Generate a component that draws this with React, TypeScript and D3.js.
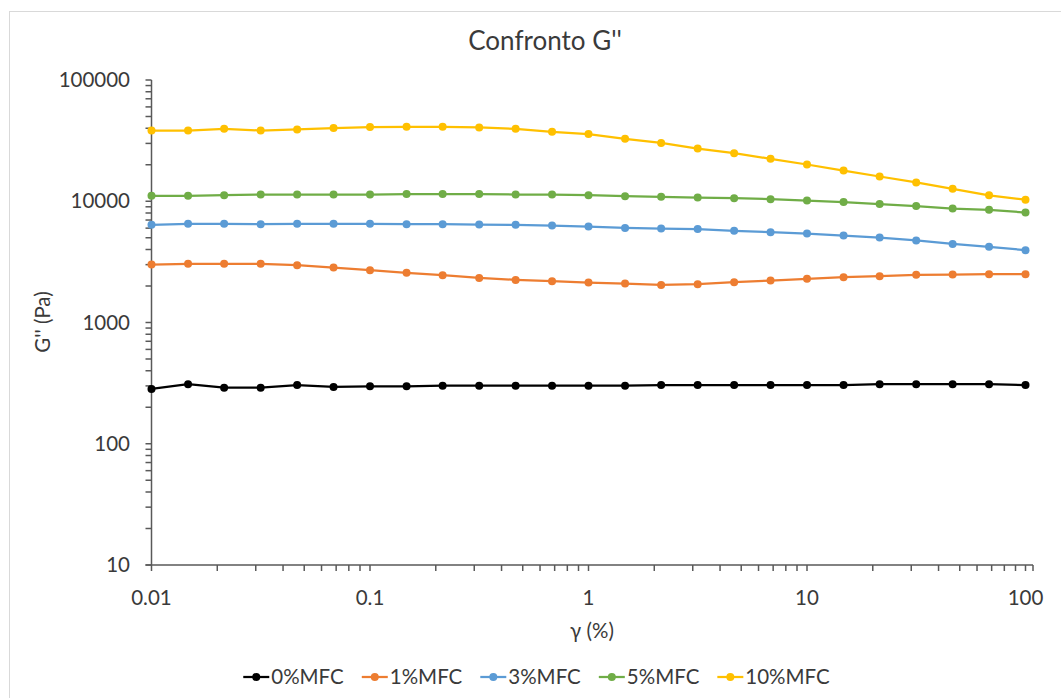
import React, { useEffect, useRef } from "react";
import * as d3 from "d3";

// Strain amplitude sweep, γ in %
const strain = [
  0.01, 0.0147, 0.0215, 0.0316, 0.0464, 0.0681,
  0.1, 0.147, 0.215, 0.316, 0.464, 0.681,
  1, 1.47, 2.15, 3.16, 4.64, 6.81,
  10, 14.7, 21.5, 31.6, 46.4, 68.1, 100,
];

// Loss modulus G'' (Pa) per MFC content
const mfc0 = [283, 310, 290, 290, 305, 294, 298, 298, 301, 301, 301, 301, 301, 301, 305, 305, 305, 305, 305, 305, 310, 310, 310, 310, 305];
const mfc1 = [3006, 3045, 3045, 3045, 2970, 2840, 2700, 2570, 2455, 2333, 2245, 2190, 2135, 2094, 2042, 2070, 2150, 2217, 2290, 2365, 2410, 2472, 2485, 2505, 2505];
const mfc3 = [6390, 6510, 6510, 6470, 6510, 6510, 6510, 6470, 6470, 6420, 6390, 6300, 6180, 6030, 5950, 5890, 5700, 5560, 5420, 5210, 5020, 4750, 4450, 4210, 3950];
const mfc5 = [11090, 11090, 11230, 11360, 11360, 11360, 11360, 11450, 11450, 11450, 11360, 11360, 11230, 11020, 10870, 10730, 10610, 10400, 10140, 9840, 9470, 9120, 8710, 8500, 8070];
const mfc10 = [38300, 38300, 39600, 38300, 39100, 40100, 40900, 41100, 41100, 40600, 39600, 37400, 35800, 32700, 30300, 27200, 24900, 22400, 20100, 17900, 16000, 14300, 12650, 11200, 10300];

const seriesNames = ["0%MFC", "1%MFC", "3%MFC", "5%MFC", "10%MFC"];
const seriesValues = [mfc0, mfc1, mfc3, mfc5, mfc10];
const seriesColors = ["#000000", "#ED7D31", "#5B9BD5", "#70AD47", "#FFC000"];

const xTickValues = [0.01, 0.1, 1, 10, 100];
const yTickValues = [10, 100, 1000, 10000, 100000];

const W = 1061;
const H = 698;
const FONT = "Lato, 'Open Sans', sans-serif";
const TEXT = "#3a3a3a";
const AXIS = "#595959";
const LABEL_SIZE = 20.5;

export default function App() {
  const ref = useRef<SVGSVGElement | null>(null);

  useEffect(() => {
    const svg = d3.select(ref.current);
    svg.selectAll("*").remove();

    const x = d3.scaleLog().domain([0.01, 100]).range([151.5, 1025.5]);
    const y = d3.scaleLog().domain([10, 100000]).range([565, 80]);
    const xAxisEnd = 1033;

    // chart area frame
    svg.append("rect")
      .attr("x", 9.5).attr("y", 11.5)
      .attr("width", W + 20).attr("height", H + 20)
      .attr("fill", "#fff").attr("stroke", "#d9d9d9").attr("stroke-width", 1);

    // title
    svg.append("text")
      .attr("x", 545).attr("y", 50)
      .attr("text-anchor", "middle")
      .attr("font-family", FONT).attr("font-size", 26)
      .attr("fill", TEXT)
      .text("Confronto G''");

    const axes = svg.append("g").attr("stroke", AXIS).attr("stroke-width", 1.5);

    // minor + major tick positions for both log axes
    const logTicks = (lo: number, hi: number) => {
      const out: number[] = [];
      for (let p = Math.log10(lo); p < Math.log10(hi); p++) {
        for (let m = 1; m <= 9; m++) out.push(m * Math.pow(10, p));
      }
      out.push(hi);
      return out;
    };

    // y axis
    axes.append("line")
      .attr("x1", x(0.01)).attr("x2", x(0.01))
      .attr("y1", y(100000)).attr("y2", y(10));
    axes.selectAll(".yt").data(logTicks(10, 100000)).enter().append("line")
      .attr("x1", x(0.01) - 6).attr("x2", x(0.01))
      .attr("y1", (d) => y(d)).attr("y2", (d) => y(d));

    // x axis
    axes.append("line")
      .attr("x1", x(0.01) - 6).attr("x2", xAxisEnd)
      .attr("y1", y(10)).attr("y2", y(10));
    axes.selectAll(".xt").data(logTicks(0.01, 100)).enter().append("line")
      .attr("x1", (d) => x(d)).attr("x2", (d) => x(d))
      .attr("y1", y(10)).attr("y2", y(10) + 6);
    axes.append("line")
      .attr("x1", xAxisEnd).attr("x2", xAxisEnd)
      .attr("y1", y(10)).attr("y2", y(10) + 6);

    // tick labels
    svg.selectAll(".yl").data(yTickValues).enter().append("text")
      .attr("x", 130).attr("y", (d) => y(d) + 7)
      .attr("text-anchor", "end")
      .attr("font-family", FONT).attr("font-size", LABEL_SIZE).attr("fill", TEXT)
      .text((d) => String(d));
    svg.selectAll(".xl").data(xTickValues).enter().append("text")
      .attr("x", (d) => x(d)).attr("y", 605)
      .attr("text-anchor", "middle")
      .attr("font-family", FONT).attr("font-size", LABEL_SIZE).attr("fill", TEXT)
      .text((d) => String(d));

    // axis titles
    svg.append("text")
      .attr("x", 592).attr("y", 638)
      .attr("text-anchor", "middle")
      .attr("font-family", FONT).attr("font-size", LABEL_SIZE).attr("fill", TEXT)
      .text("γ (%)");
    svg.append("text")
      .attr("transform", `translate(50,322) rotate(-90)`)
      .attr("text-anchor", "middle")
      .attr("font-family", FONT).attr("font-size", LABEL_SIZE).attr("fill", TEXT)
      .text("G'' (Pa)");

    // series lines and markers
    const line = d3.line<number>()
      .x((_, i) => x(strain[i]))
      .y((d) => y(d));

    seriesValues.forEach((vals, si) => {
      const g = svg.append("g");
      g.append("path")
        .attr("d", line(vals) ?? "")
        .attr("fill", "none")
        .attr("stroke", seriesColors[si])
        .attr("stroke-width", 2.25)
        .attr("stroke-linejoin", "round");
      g.selectAll("circle").data(vals).enter().append("circle")
        .attr("cx", (_, i) => x(strain[i]))
        .attr("cy", (d) => y(d))
        .attr("r", 4)
        .attr("fill", seriesColors[si]);
    });

    // legend
    const legend = svg.append("g");
    const items = seriesNames.map((name, i) => {
      const g = legend.append("g");
      g.append("line")
        .attr("x1", 0).attr("x2", 26).attr("y1", 0).attr("y2", 0)
        .attr("stroke", seriesColors[i]).attr("stroke-width", 2.25);
      g.append("circle").attr("cx", 13).attr("cy", 0).attr("r", 4)
        .attr("fill", seriesColors[i]);
      const t = g.append("text")
        .attr("x", 28).attr("y", 7)
        .attr("font-family", FONT).attr("font-size", LABEL_SIZE).attr("fill", TEXT)
        .text(name);
      const w = 28 + ((t.node() as SVGTextElement).getComputedTextLength() || 60);
      return { g, w };
    });
    const gap = 18;
    const total = items.reduce((s, it) => s + it.w, 0) + gap * (items.length - 1);
    let cx = 536.5 - total / 2;
    items.forEach((it) => {
      it.g.attr("transform", `translate(${cx},677)`);
      cx += it.w + gap;
    });
  }, []);

  return (
    <svg
      ref={ref}
      width={W}
      height={H}
      style={{ position: "absolute", left: 0, top: 0, background: "#fff" }}
    />
  );
}
